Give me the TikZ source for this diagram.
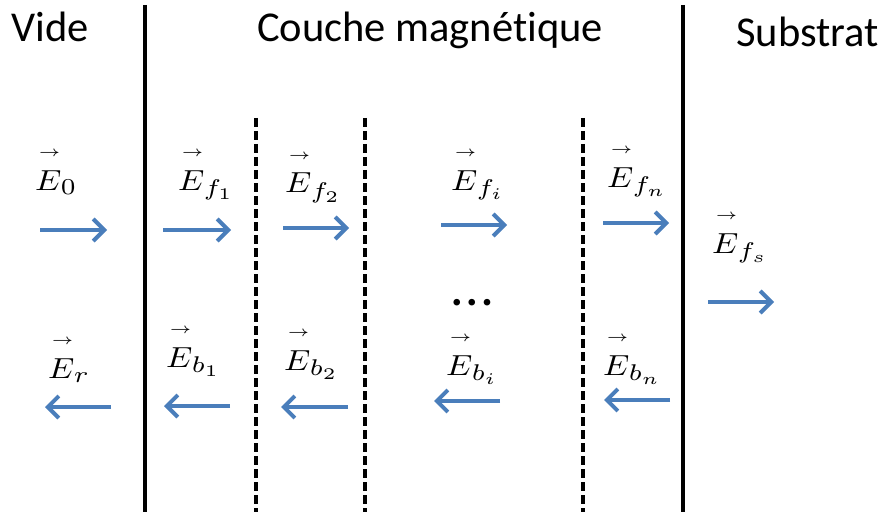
\documentclass[tikz,border=0pt]{standalone}
\usepackage{graphicx}
\usepackage[no-math]{fontspec}
\setmainfont{Carlito}[Ligatures={NoCommon}]
\usetikzlibrary{arrows.meta}
\definecolor{arrowblue}{HTML}{4A7EBB}
\newcommand{\vlab}[1]{\scalebox{3.3}[2.9]{$#1$}}
\newcommand{\vecE}{\mathord{\vbox{\offinterlineskip\halign{\hfil##\hfil\cr
  \kern1.6pt$\scriptscriptstyle\rightarrow$\cr\noalign{\kern4.7pt}$E$\kern-0.7pt\cr}}}}
\newcommand{\sbx}[1]{\scalebox{1.12}{$\scriptstyle #1$}}
\tikzset{
  hdr/.style={anchor=base west, inner sep=0pt, font=\fontsize{42.5}{50}\selectfont},
  lbl/.style={anchor=base west, inner sep=0pt},
  wave/.style={arrowblue, line width=4pt, -{Straight Barb[length=11pt,width=22pt]}},
  border/.style={black, line width=3.5pt},
  sublayer/.style={black, line width=3.5pt, dash pattern=on 9pt off 4pt},
}
\begin{document}
\begin{tikzpicture}[x=1pt,y=-1pt]
\useasboundingbox (0,0) rectangle (889,516);
% boundaries
\coordinate (s1t) at (145,5); \coordinate (s1b) at (145,512);
\coordinate (s2t) at (683,5); \coordinate (s2b) at (683,512);
\draw[border] (s1t) -- (s1b);
\draw[border] (s2t) -- (s2b);
\coordinate (d1t) at (256,118); \coordinate (d1b) at (256,512);
\coordinate (d2t) at (365,118); \coordinate (d2b) at (365,512);
\coordinate (d3t) at (583,118); \coordinate (d3b) at (583,512);
\draw[sublayer] (d1t) -- (d1b);
\draw[sublayer] (d2t) -- (d2b);
\draw[sublayer] (d3t) -- (d3b);
% headers
\node[hdr] (vide) at (11,42) {Vide};
\node[hdr] (couche) at (257,42) {Couche magnétique};
\node[hdr] (substrat) at (736,47) {Substrat};
% forward labels
\node[lbl] (e0) at (33,190) {\vlab{\vecE_{\sbx{0}}}};
\node[lbl] (ef1) at (176,190) {\vlab{\vecE_{\sbx{f_1}}}};
\node[lbl] (ef2) at (283,193) {\vlab{\vecE_{\sbx{f_2}}}};
\node[lbl] (efi) at (449,190) {\vlab{\vecE_{\sbx{f_i}}}};
\node[lbl] (efn) at (605,187) {\vlab{\vecE_{\sbx{f_n}}}};
\node[lbl] (efs) at (710,253) {\vlab{\vecE_{\sbx{f_s}}}};
% backward labels
\node[lbl] (er) at (46,378) {\vlab{\vecE_{\sbx{r}}}};
\node[lbl] (eb1) at (164,367) {\vlab{\vecE_{\sbx{b_1}}}};
\node[lbl] (eb2) at (282,370) {\vlab{\vecE_{\sbx{b_2}}}};
\node[lbl] (ebi) at (444,375) {\vlab{\vecE_{\sbx{b_i}}}};
\node[lbl] (ebn) at (601,375) {\vlab{\vecE_{\sbx{b_n}}}};
% ellipsis
\node[inner sep=0pt] (dots) at (472,303) {\scalebox{2.2}{$\scriptstyle\bullet\mkern6mu\bullet\mkern6mu\bullet$}};
% forward arrows
\coordinate (a0s) at (40,230); \coordinate (a0e) at (107,230);
\coordinate (a1s) at (163,230); \coordinate (a1e) at (231,230);
\coordinate (a2s) at (283,228); \coordinate (a2e) at (349,228);
\coordinate (ais) at (441,225); \coordinate (aie) at (507,225);
\coordinate (ans) at (603,223); \coordinate (ane) at (669,223);
\coordinate (ass) at (708,302); \coordinate (ase) at (774,302);
\draw[wave] (a0s) -- (a0e);
\draw[wave] (a1s) -- (a1e);
\draw[wave] (a2s) -- (a2e);
\draw[wave] (ais) -- (aie);
\draw[wave] (ans) -- (ane);
\draw[wave] (ass) -- (ase);
% backward arrows
\coordinate (brs) at (111,407); \coordinate (bre) at (45,407);
\coordinate (b1s) at (230,406); \coordinate (b1e) at (164,406);
\coordinate (b2s) at (348,407); \coordinate (b2e) at (281,407);
\coordinate (bis) at (500,401); \coordinate (bie) at (434,401);
\coordinate (bns) at (670,400); \coordinate (bne) at (604,400);
\draw[wave] (brs) -- (bre);
\draw[wave] (b1s) -- (b1e);
\draw[wave] (b2s) -- (b2e);
\draw[wave] (bis) -- (bie);
\draw[wave] (bns) -- (bne);
\end{tikzpicture}
\end{document}
